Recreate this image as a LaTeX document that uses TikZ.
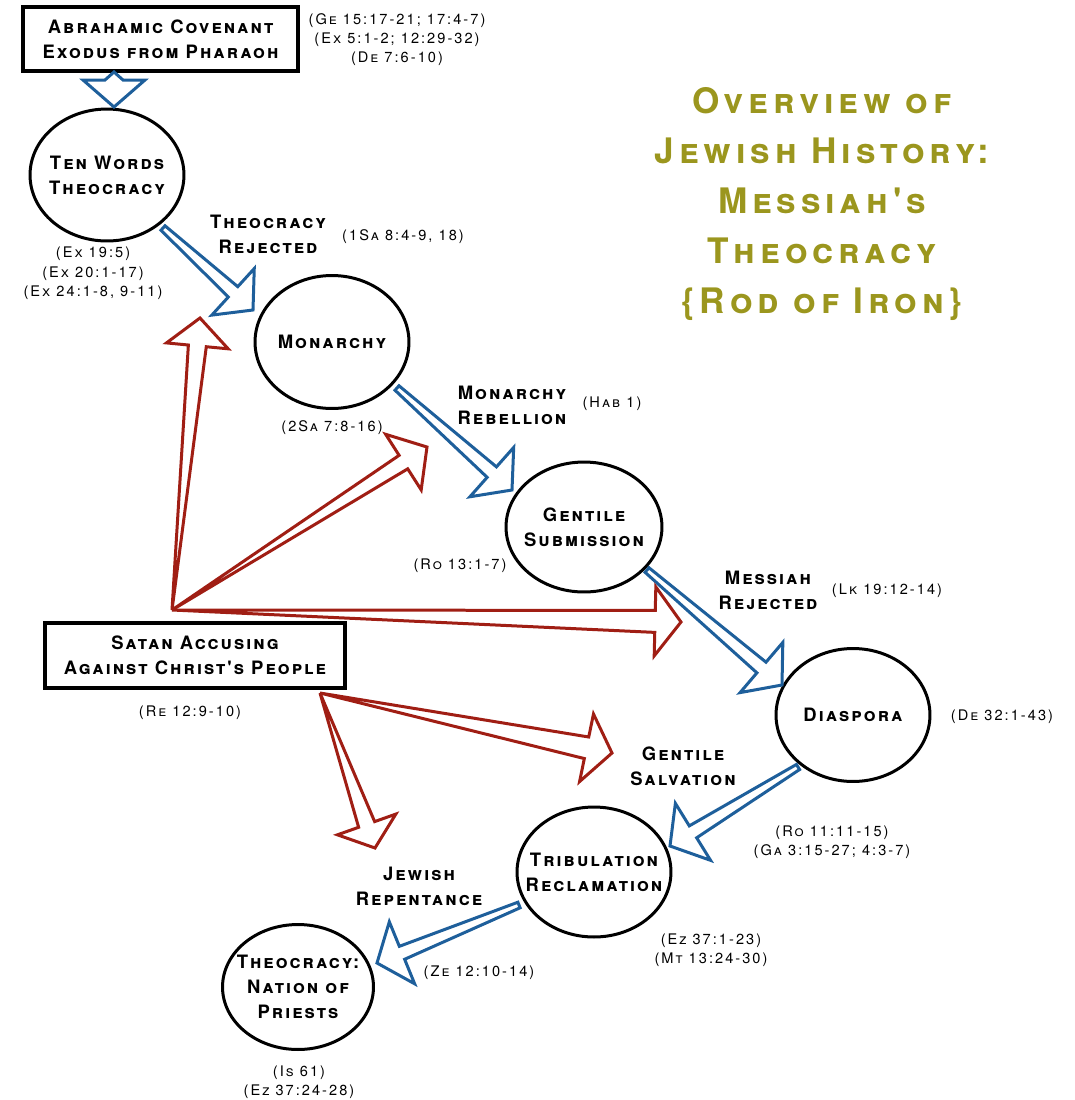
\documentclass[tikz,border=0pt]{standalone}
\usepackage{fontspec}
\setmainfont{TeX Gyre Heros}
\newfontfamily\labf{TeX Gyre Heros}[Letters=SmallCaps,LetterSpace=11]
\newfontfamily\titf{TeX Gyre Heros}[Letters=SmallCaps,LetterSpace=14]
\newfontfamily\reff{TeX Gyre Heros}[Letters=SmallCaps,LetterSpace=14]
\usetikzlibrary{calc,shapes.geometric}
\definecolor{blueA}{RGB}{30,95,155}
\definecolor{redA}{RGB}{160,30,20}
\definecolor{oliveA}{RGB}{155,150,30}
% #1 style, #2 start, #3 tip, #4 shaft half width at start, #5 at head, #6 head half width, #7 head length
\newcommand\blockarrow[7]{%
  \coordinate (bH) at ($(#3)!#7!(#2)$);
  \draw[#1] ($(#2)!#4!90:(#3)$) -- ($(bH)!#5!-90:(#2)$) -- ($(bH)!#6!-90:(#2)$) -- (#3)
    -- ($(bH)!#6!90:(#2)$) -- ($(bH)!#5!90:(#2)$) -- ($(#2)!#4!-90:(#3)$) -- cycle;
}
\begin{document}
\begin{tikzpicture}[x=0.02cm,y=-0.02cm,
  circ/.style={ellipse, draw, line width=0.06cm, inner sep=0pt},
  boxs/.style={draw, line width=0.07cm, inner sep=0pt, align=center,
    font=\labf\bfseries\fontsize{10.5}{14.2}\selectfont},
  lab/.style={align=center, inner sep=0pt, font=\labf\bfseries\fontsize{10.5}{14.2}\selectfont},
  ref/.style={align=center, inner sep=0pt, font=\reff\fontsize{8.3}{11}\selectfont},
  bluearr/.style={draw=blueA, line width=0.06cm, line join=miter, fill=white},
  redarr/.style={draw=redA, line width=0.06cm, line join=miter, fill=white}]
\useasboundingbox (0,0) rectangle (1075,1100);

% title
\node[align=center, text=oliveA, font=\titf\bfseries\fontsize{20}{28.4}\selectfont] (title) at (822,204)
  {Overview of\\Jewish History:\\Messiah's\\Theocracy\\\{Rod of Iron\}};

% boxes
\node[boxs, minimum width=5.5cm, minimum height=1.28cm] (abr) at (160.5,39) {Abrahamic Covenant\\Exodus from Pharaoh};
\node[boxs, minimum width=6cm, minimum height=1.3cm] (sat) at (195,655.5) {Satan Accusing\\Against Christ's People};

% circles
\node[circ, minimum width=3.08cm, minimum height=2.64cm] (ten) at (107,175) {};
\node[circ, minimum width=3.08cm, minimum height=2.66cm] (mon) at (332,342) {};
\node[circ, minimum width=3.12cm, minimum height=2.6cm] (gen) at (584,527) {};
\node[circ, minimum width=3.08cm, minimum height=2.66cm] (dia) at (853,715) {};
\node[circ, minimum width=3.08cm, minimum height=2.6cm] (tri) at (594,872) {};
\node[circ, minimum width=3.02cm, minimum height=2.5cm] (theo) at (298,987) {};
\node[lab] (ten-t) at (ten) {Ten Words\\Theocracy};
\node[lab] (mon-t) at (mon) {Monarchy};
\node[lab] (gen-t) at (gen) {Gentile\\Submission};
\node[lab] (dia-t) at (dia) {Diaspora};
\node[lab] (tri-t) at (tri) {Tribulation\\Reclamation};
\node[lab] (theo-t) at (theo) {Theocracy:\\Nation of\\Priests};

% labels
\node[lab] (l1) at (268,234.5) {Theocracy\\Rejected};
\node[lab] (l2) at (512,405) {Monarchy\\Rebellion};
\node[lab] (l3) at (768,590.5) {Messiah\\Rejected};
\node[lab] (l4) at (683,766.5) {Gentile\\Salvation};
\node[lab] (l5) at (419,886.5) {Jewish\\Repentance};

% references
\node[ref] (r1) at (397,39.5) {(Ge 15:17-21; 17:4-7)\\(Ex 5:1-2; 12:29-32)\\(De 7:6-10)};
\node[ref] (r2) at (93,273.5) {(Ex 19:5)\\(Ex 20:1-17)\\(Ex 24:1-8, 9-11)};
\node[ref] (r3) at (403,237) {(1Sa 8:4-9, 18)};
\node[ref] (r4) at (332,428) {(2Sa 7:8-16)};
\node[ref] (r5) at (612,404) {(Hab 1)};
\node[ref] (r6) at (460,566) {(Ro 13:1-7)};
\node[ref] (r7) at (887,591) {(Lk 19:12-14)};
\node[ref] (r8) at (1002,717) {(De 32:1-43)};
\node[ref] (r9) at (832,842) {(Ro 11:11-15)\\(Ga 3:15-27; 4:3-7)};
\node[ref] (r10) at (190,713) {(Re 12:9-10)};
\node[ref] (r11) at (479,973) {(Ze 12:10-14)};
\node[ref] (r12) at (711,950.5) {(Ez 37:1-23)\\(Mt 13:24-30)};
\node[ref] (r13) at (299,1082.5) {(Is 61)\\(Ez 37:24-28)};

% arrow end points
\coordinate (b0s) at (114,72);  \coordinate (b0e) at (114,107);
\coordinate (b1s) at (163,228); \coordinate (b1e) at (253,310);
\coordinate (b2s) at (397,388); \coordinate (b2e) at (512,490);
\coordinate (b3s) at (647,570); \coordinate (b3e) at (782,685);
\coordinate (b4s) at (798,767); \coordinate (b4e) at (670,846);
\coordinate (b5s) at (519,905); \coordinate (b5e) at (377,963);
\coordinate (ra) at (172,610);
\coordinate (rb) at (320,693);
\coordinate (r1e) at (200,318);
\coordinate (r2e) at (427,447);
\coordinate (r3e) at (681,622);
\coordinate (r4e) at (612,753);
\coordinate (r5e) at (375,848);

% blue arrows
\blockarrow{bluearr}{b0s}{b0e}{0cm}{0.18cm}{0.62cm}{0.54cm}
\blockarrow{bluearr}{b1s}{b1e}{0.06cm}{0.14cm}{0.63cm}{0.54cm}
\blockarrow{bluearr}{b2s}{b2e}{0.06cm}{0.14cm}{0.66cm}{0.54cm}
\blockarrow{bluearr}{b3s}{b3e}{0.06cm}{0.14cm}{0.66cm}{0.54cm}
\blockarrow{bluearr}{b4s}{b4e}{0.06cm}{0.14cm}{0.67cm}{0.54cm}
\blockarrow{bluearr}{b5s}{b5e}{0.06cm}{0.14cm}{0.67cm}{0.54cm}

% red arrows
\blockarrow{redarr}{ra}{r1e}{0cm}{0.18cm}{0.62cm}{0.56cm}
\blockarrow{redarr}{ra}{r2e}{0cm}{0.16cm}{0.66cm}{0.56cm}
\blockarrow{redarr}{ra}{r3e}{0cm}{0.22cm}{0.69cm}{0.52cm}
\blockarrow{redarr}{rb}{r4e}{0cm}{0.22cm}{0.69cm}{0.52cm}
\blockarrow{redarr}{rb}{r5e}{0cm}{0.17cm}{0.62cm}{0.50cm}
\end{tikzpicture}
\end{document}
